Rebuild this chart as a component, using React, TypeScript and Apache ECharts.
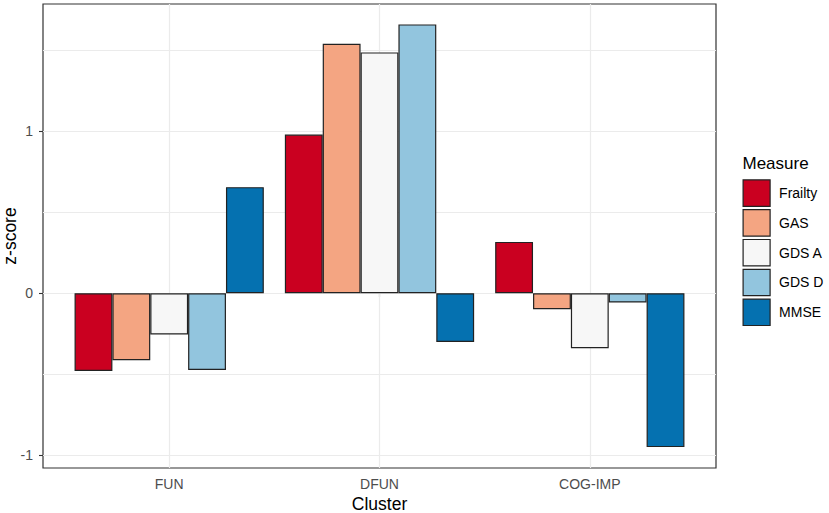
import React, { useEffect, useRef } from "react";
import * as echarts from "echarts";

const categories = ["FUN", "DFUN", "COG-IMP"];
const measures = ["Frailty", "GAS", "GDS A", "GDS D", "MMSE"];
const frailty = [-0.48, 0.98, 0.317];
const gas = [-0.414, 1.54, -0.099];
const gdsA = [-0.255, 1.487, -0.34];
const gdsD = [-0.474, 1.66, -0.057];
const mmse = [0.655, -0.301, -0.95];
const yTicks = [-1, 0, 1];
const yMinorTicks = [-0.5, 0.5, 1.5];
const colors = ["#CA0020", "#F4A582", "#F7F7F7", "#92C5DE", "#0571B0"];

const YMIN = -1.079;
const YMAX = 1.786;
const FONT = "'Liberation Sans', Arial, sans-serif";

export default function App() {
  const ref = useRef<HTMLDivElement>(null);
  useEffect(() => {
    if (!ref.current) return;
    const chart = echarts.init(ref.current, null, { renderer: "svg" });
    const values = [frailty, gas, gdsA, gdsD, mmse];
    const panelLeft = 43;
    const panelTop = 4;
    const panelW = 673;
    const panelH = 464;
    const unit = panelW / 3.2;
    const barSeries = measures.map((m, i) => ({
      name: m,
      type: "bar",
      xAxisIndex: 1,
      yAxisIndex: 1,
      data: values[i],
      barGap: "0%",
      barCategoryGap: "10%",
      z: 10,
      itemStyle: { color: colors[i], borderColor: "#222222", borderWidth: 1.2 },
      emphasis: { disabled: true },
    }));
    chart.setOption({
      animation: false,
      textStyle: { fontFamily: FONT },
      grid: [
        {
          left: panelLeft,
          top: panelTop,
          width: panelW,
          height: panelH,
          show: true,
          borderColor: "#333333",
          borderWidth: 1.2,
          backgroundColor: "transparent",
        },
        {
          left: panelLeft + 0.1 * unit,
          top: panelTop,
          width: 3 * unit,
          height: panelH,
        },
      ],
      xAxis: [
        { type: "value", gridIndex: 0, min: 0.4, max: 3.6, show: false },
        {
          type: "category",
          gridIndex: 1,
          data: categories,
          axisLine: { show: false },
          axisTick: { show: true, alignWithLabel: true, length: 4, lineStyle: { color: "#333333", width: 1.1 } },
          axisLabel: { color: "#4d4d4d", fontSize: 14, margin: 9, fontFamily: FONT },
          splitLine: { show: false },
        },
      ],
      yAxis: [
        {
          type: "value",
          gridIndex: 0,
          min: YMIN,
          max: YMAX,
          axisLine: { show: false },
          splitLine: { show: false },
          axisTick: { show: true, customValues: yTicks, length: 4, lineStyle: { color: "#333333", width: 1.1 } },
          axisLabel: { customValues: yTicks, color: "#4d4d4d", fontSize: 14, margin: 10, fontFamily: FONT },
        },
        { type: "value", gridIndex: 1, min: YMIN, max: YMAX, show: false },
      ],
      legend: {
        orient: "vertical",
        left: 742.5,
        top: 179.3,
        itemWidth: 27,
        itemHeight: 26.4,
        itemGap: 2.2,
        padding: 0,
        icon: "rect",
        selectedMode: false,
        data: measures,
        itemStyle: { borderWidth: 1.2, borderColor: "#222222" },
        textStyle: { fontSize: 14, color: "#000", fontFamily: FONT, padding: [0, 0, 0, 4] },
      },
      graphic: [
        {
          type: "text",
          left: 742.5,
          top: 155,
          style: { text: "Measure", fontSize: 17, fill: "#000", fontFamily: FONT },
        },
        {
          type: "text",
          x: panelLeft + panelW / 2,
          y: 504,
          style: { text: "Cluster", fontSize: 17.5, fill: "#000", fontFamily: FONT, align: "center", verticalAlign: "middle" },
        },
        {
          type: "text",
          x: 9.5,
          y: panelTop + panelH / 2,
          rotation: Math.PI / 2,
          style: { text: "z-score", fontSize: 17.5, fill: "#000", fontFamily: FONT, align: "center", verticalAlign: "middle" },
        },
      ],
      series: [
        {
          type: "line",
          xAxisIndex: 0,
          yAxisIndex: 0,
          data: [],
          z: 1,
          silent: true,
          markLine: {
            z: 1,
            silent: true,
            symbol: ["none", "none"],
            label: { show: false },
            emphasis: { disabled: true },
            animation: false,
            data: [
              ...[1, 2, 3].map((x) => ({ xAxis: x, lineStyle: { color: "#ebebeb", width: 1.2, type: "solid" } })),
              ...yTicks.map((y) => ({ yAxis: y, lineStyle: { color: "#ebebeb", width: 1.2, type: "solid" } })),
              ...yMinorTicks.map((y) => ({ yAxis: y, lineStyle: { color: "#ebebeb", width: 1, type: "solid" } })),
            ],
          },
        },
        ...barSeries,
      ],
    });
    return () => chart.dispose();
  }, []);
  return (
    <div
      ref={ref}
      style={{ position: "absolute", left: 0, top: 0, width: 829, height: 513, background: "#fff" }}
    />
  );
}
